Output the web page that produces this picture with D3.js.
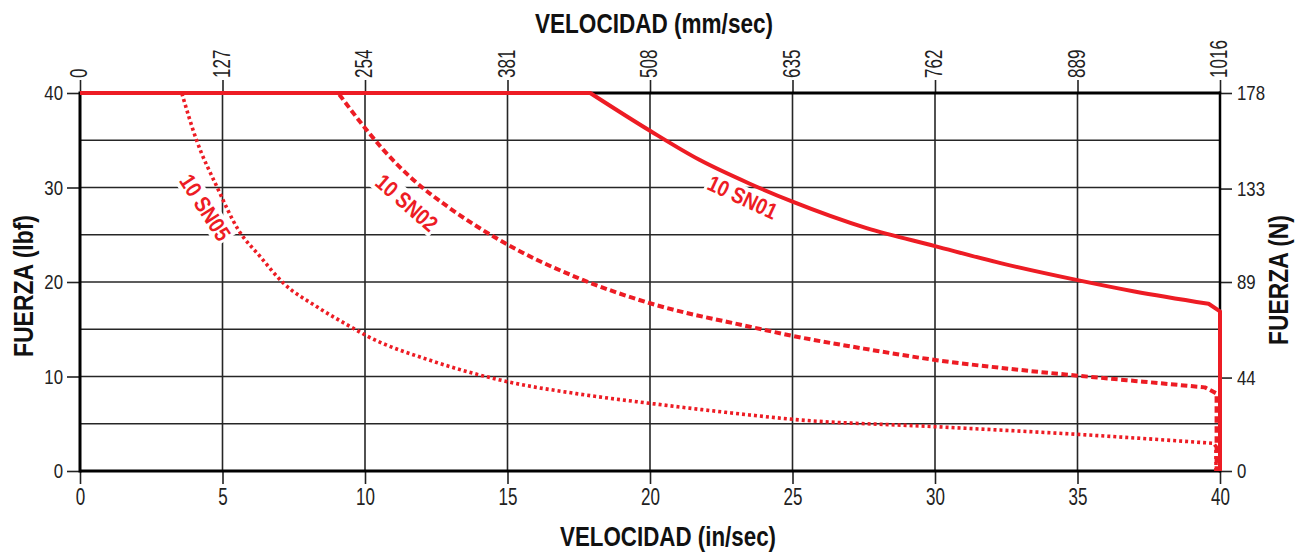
<!DOCTYPE html>
<html>
<head>
<meta charset="utf-8">
<script src="https://cdn.jsdelivr.net/npm/d3@7"></script>
<style>
  body { margin: 0; background: #fff; }
  svg { display: block; }
  .tick-label { font-family: "Liberation Sans", Arial, sans-serif; fill: #222; }
  .title { font-family: "Liberation Sans", Arial, sans-serif; font-weight: bold; fill: #111; }
  .curve-label { font-family: "Liberation Sans", Arial, sans-serif; font-weight: bold; fill: #ed1c24; }
</style>
</head>
<body>
<svg id="chart" width="1300" height="555"></svg>
<script>
// Axis ticks
const inSecTicks = [0, 5, 10, 15, 20, 25, 30, 35, 40];
const mmSecTicks = [0, 127, 254, 381, 508, 635, 762, 889, 1016];
const lbfTicks = [0, 10, 20, 30, 40];
const newtonTicks = [0, 44, 89, 133, 178];
const gridLbf = [5, 10, 15, 20, 25, 30, 35];
const gridIn = [5, 10, 15, 20, 25, 30, 35];

// Force (lbf) vs speed (in/sec) for each motor
const sn01Speed = [0, 17.9, 20.0, 21.75, 23.5, 25.0, 27.6, 30.0, 32.3, 35.0, 37.0, 39.6, 40.0, 40.0];
const sn01Force = [40, 40, 36.0, 32.9, 30.4, 28.5, 25.7, 23.8, 22.0, 20.2, 19.0, 17.7, 16.9, 0];

const sn02Speed = [0, 9.06, 10.0, 10.64, 11.7, 12.98, 14.74, 17.66, 20.0, 23.5, 25.0, 27.5, 30.0, 32.5, 35.0, 37.5, 39.47, 39.88, 39.88];
const sn02Force = [40, 40, 36.3, 34.0, 30.8, 27.8, 24.4, 20.2, 17.75, 15.27, 14.3, 12.95, 11.75, 10.85, 10.09, 9.4, 8.85, 8.2, 0];

const sn05Speed = [0, 3.57, 4.09, 4.8, 5.56, 6.32, 7.13, 8.3, 9.59, 10.0, 12.4, 15.0, 17.5, 20.0, 23.5, 25.0, 30.0, 35.0, 39.77, 39.86, 39.86];
const sn05Force = [40, 40, 35.0, 30.1, 25.5, 22.7, 19.9, 17.4, 15.1, 14.4, 11.6, 9.45, 8.15, 7.16, 5.93, 5.47, 4.69, 3.88, 2.93, 2.6, 0];

const seriesNames = ["10 SN01", "10 SN02", "10 SN05"];

const plot = { left: 80, right: 1220, top: 93, bottom: 471 };
const red = "#ed1c24";
const squeezeX = 0.74;   // condensed numerals on the speed axes
const squeezeY = 0.8;    // condensed numerals on the force axes

const svg = d3.select("#chart");

const x = d3.scaleLinear().domain([0, 40]).range([plot.left, plot.right]);
const xMm = d3.scaleLinear().domain([0, 1016]).range([plot.left, plot.right]);
const y = d3.scaleLinear().domain([0, 40]).range([plot.bottom, plot.top]);
const yN = d3.scaleLinear().domain([0, 178]).range([plot.bottom, plot.top]);

// Grid
const grid = svg.append("g").attr("stroke", "#262626").attr("stroke-width", 1.6);
grid.selectAll("line.h").data(gridLbf).join("line")
  .attr("x1", plot.left).attr("x2", plot.right)
  .attr("y1", d => y(d)).attr("y2", d => y(d));
grid.selectAll("line.v").data(gridIn).join("line")
  .attr("y1", plot.top).attr("y2", plot.bottom)
  .attr("x1", d => x(d)).attr("x2", d => x(d));

// Axes
function styleAxis(size) {
  return g => {
    g.select(".domain").remove();
    g.selectAll(".tick line").attr("stroke", "#222").attr("stroke-width", 1.6);
    g.selectAll(".tick text").attr("class", "tick-label").attr("font-size", size);
  };
}

svg.append("g").attr("transform", `translate(0,${plot.bottom})`)
  .call(d3.axisBottom(x).tickValues(inSecTicks).tickSize(13).tickPadding(5))
  .call(styleAxis(23))
  .call(g => g.selectAll(".tick text").attr("transform", `scale(${squeezeX},1)`));

svg.append("g").attr("transform", `translate(0,${plot.top})`)
  .call(d3.axisTop(xMm).tickValues(mmSecTicks).tickSize(13).tickFormat(d => String(d)))
  .call(styleAxis(23))
  .call(g => g.selectAll(".tick text")
    .attr("transform", `rotate(-90) scale(${squeezeX},1)`)
    .attr("text-anchor", "start")
    .attr("x", 15 / squeezeX).attr("y", -1.5).attr("dy", "0.35em"));

svg.append("g").attr("transform", `translate(${plot.left},0)`)
  .call(d3.axisLeft(y).tickValues(lbfTicks).tickSize(13))
  .call(styleAxis(21))
  .call(g => g.selectAll(".tick text")
    .attr("transform", `scale(${squeezeY},1)`)
    .attr("x", -17 / squeezeY));

svg.append("g").attr("transform", `translate(${plot.right},0)`)
  .call(d3.axisRight(yN).tickValues(newtonTicks).tickSize(12))
  .call(styleAxis(21))
  .call(g => g.selectAll(".tick text")
    .attr("transform", `scale(${squeezeY},1)`)
    .attr("x", 17 / squeezeY));

// Frame
const frame = svg.append("g").attr("stroke", "#000");
frame.append("line").attr("x1", plot.left).attr("x2", plot.right).attr("y1", plot.top).attr("y2", plot.top).attr("stroke-width", 3);
frame.append("line").attr("x1", plot.left).attr("x2", plot.right).attr("y1", plot.bottom).attr("y2", plot.bottom).attr("stroke-width", 3);
frame.append("line").attr("x1", plot.left).attr("x2", plot.left).attr("y1", plot.top - 1.5).attr("y2", plot.bottom + 1.5).attr("stroke-width", 3);
frame.append("line").attr("x1", plot.right).attr("x2", plot.right).attr("y1", plot.top - 1.5).attr("y2", plot.bottom + 1.5).attr("stroke-width", 2.5);

// Titles
function title(text, tx, ty, rot, len) {
  svg.append("text").attr("class", "title").attr("font-size", 27)
    .attr("transform", `translate(${tx},${ty}) rotate(${rot})`)
    .attr("text-anchor", "middle")
    .attr("textLength", len).attr("lengthAdjust", "spacingAndGlyphs")
    .text(text);
}
title("VELOCIDAD (mm/sec)", 654, 33, 0, 238);
title("VELOCIDAD (in/sec)", 668, 546, 0, 216);
title("FUERZA (lbf)", 33, 286, -90, 142);
title("FUERZA (N)", 1288, 280, -90, 130);

// Curve labels on white knock-out boxes
const labelSpots = [
  { name: seriesNames[0], sx: 23.25, f: 29.0, angle: 25 },
  { name: seriesNames[1], sx: 11.47, f: 28.4, angle: 41 },
  { name: seriesNames[2], sx: 4.4, f: 27.9, angle: 57 }
];
const labels = svg.append("g").selectAll("g").data(labelSpots).join("g")
  .attr("transform", d => `translate(${x(d.sx)},${y(d.f)}) rotate(${d.angle})`);
labels.append("rect").attr("fill", "#fff");
labels.append("text")
  .attr("class", "curve-label")
  .attr("font-size", 22.5)
  .attr("text-anchor", "middle")
  .attr("dy", "0.36em")
  .attr("textLength", 74).attr("lengthAdjust", "spacingAndGlyphs")
  .text(d => d.name);
labels.each(function () {
  const g = d3.select(this);
  const b = g.select("text").node().getBBox();
  g.select("rect")
    .attr("x", b.x - 2).attr("y", b.y + 1)
    .attr("width", b.width + 4).attr("height", b.height - 2);
});

// Curves: flat constant-force run, smooth falloff, then drop to zero at max speed
const smooth = d3.line().x(d => x(d[0])).y(d => y(d[1])).curve(d3.curveMonotoneX);
function curvePath(speed, force) {
  const pts = speed.map((s, i) => [s, force[i]]);
  const n = pts.length;
  const mid = smooth(pts.slice(1, n - 2));
  const p = d3.path();
  p.moveTo(x(pts[0][0]), y(pts[0][1]));
  let d = p.toString() + "L" + mid.slice(1);
  for (let i = n - 2; i < n; i++) d += `L${x(pts[i][0])},${y(pts[i][1])}`;
  return d;
}
const curves = [
  { speed: sn05Speed, force: sn05Force, width: 3.6, dash: "3,3" },
  { speed: sn02Speed, force: sn02Force, width: 4, dash: "6.5,3.5" },
  { speed: sn01Speed, force: sn01Force, width: 4, dash: null }
];
svg.append("g").selectAll("path").data(curves).join("path")
  .attr("fill", "none")
  .attr("stroke", red)
  .attr("stroke-width", d => d.width)
  .attr("stroke-dasharray", d => d.dash)
  .attr("stroke-linejoin", "round")
  .attr("d", d => curvePath(d.speed, d.force));
</script>
</body>
</html>
